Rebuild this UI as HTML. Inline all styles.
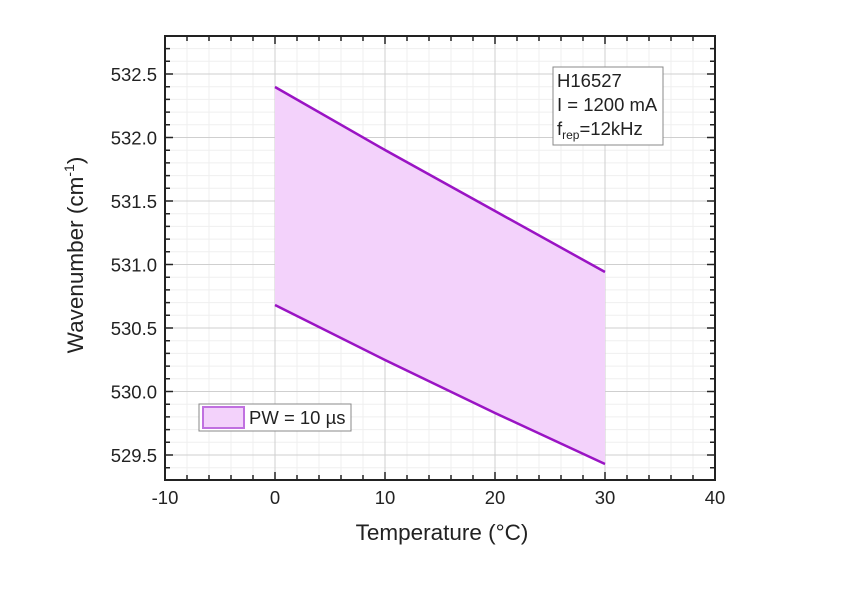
<!DOCTYPE html>
<html><head><meta charset="utf-8"><style>body{margin:0;background:#fff}</style></head><body>
<svg width="846" height="586" xmlns="http://www.w3.org/2000/svg" font-family="Liberation Sans, Arial, sans-serif">
<rect width="846" height="586" fill="#fff"/>
<path fill="none" stroke="#efefef" stroke-width="1" d="
M187 36V480M209 36V480M231 36V480M253 36V480M297 36V480M319 36V480M341 36V480M363 36V480M407 36V480M429 36V480M451 36V480M473 36V480M517 36V480M539 36V480M561 36V480M583 36V480M627 36V480M649 36V480M671 36V480M693 36V480
M165 48.6H715M165 61.3H715M165 86.7H715M165 99.4H715M165 112.1H715M165 124.8H715M165 150.2H715M165 162.9H715M165 175.6H715M165 188.3H715M165 213.7H715M165 226.4H715M165 239.1H715M165 251.8H715M165 277.2H715M165 289.9H715M165 302.6H715M165 315.3H715M165 340.7H715M165 353.4H715M165 366.1H715M165 378.8H715M165 404.2H715M165 416.9H715M165 429.6H715M165 442.3H715M165 467.7H715"/>
<path fill="none" stroke="#cfcfcf" stroke-width="1" d="M275 36V480M385 36V480M495 36V480M605 36V480M165 74H715M165 137.5H715M165 201H715M165 264.5H715M165 328H715M165 391.5H715M165 455H715"/>
<polygon points="275,87 385,150 495,211 605,272 605,464 495,413 385,360 275,305" fill="#f3d2fb"/>
<polyline points="275,87 385,150 495,211 605,272" fill="none" stroke="#9a14c4" stroke-width="2.5"/>
<polyline points="275,305 385,360 495,413 605,464" fill="none" stroke="#9a14c4" stroke-width="2.5"/>
<rect x="165" y="36" width="550" height="444" fill="none" stroke="#222" stroke-width="2"/>
<path fill="none" stroke="#222" stroke-width="1.5" d="
M187 480v-5M209 480v-5M231 480v-5M253 480v-5M297 480v-5M319 480v-5M341 480v-5M363 480v-5M407 480v-5M429 480v-5M451 480v-5M473 480v-5M517 480v-5M539 480v-5M561 480v-5M583 480v-5M627 480v-5M649 480v-5M671 480v-5M693 480v-5
M275 480v-8M385 480v-8M495 480v-8M605 480v-8
M187 36v5M209 36v5M231 36v5M253 36v5M297 36v5M319 36v5M341 36v5M363 36v5M407 36v5M429 36v5M451 36v5M473 36v5M517 36v5M539 36v5M561 36v5M583 36v5M627 36v5M649 36v5M671 36v5M693 36v5
M275 36v8M385 36v8M495 36v8M605 36v8
M165 48.6h5M165 61.3h5M165 86.7h5M165 99.4h5M165 112.1h5M165 124.8h5M165 150.2h5M165 162.9h5M165 175.6h5M165 188.3h5M165 213.7h5M165 226.4h5M165 239.1h5M165 251.8h5M165 277.2h5M165 289.9h5M165 302.6h5M165 315.3h5M165 340.7h5M165 353.4h5M165 366.1h5M165 378.8h5M165 404.2h5M165 416.9h5M165 429.6h5M165 442.3h5M165 467.7h5
M165 74h8M165 137.5h8M165 201h8M165 264.5h8M165 328h8M165 391.5h8M165 455h8
M715 48.6h-5M715 61.3h-5M715 86.7h-5M715 99.4h-5M715 112.1h-5M715 124.8h-5M715 150.2h-5M715 162.9h-5M715 175.6h-5M715 188.3h-5M715 213.7h-5M715 226.4h-5M715 239.1h-5M715 251.8h-5M715 277.2h-5M715 289.9h-5M715 302.6h-5M715 315.3h-5M715 340.7h-5M715 353.4h-5M715 366.1h-5M715 378.8h-5M715 404.2h-5M715 416.9h-5M715 429.6h-5M715 442.3h-5M715 467.7h-5
M715 74h-8M715 137.5h-8M715 201h-8M715 264.5h-8M715 328h-8M715 391.5h-8M715 455h-8"/>
<g font-size="18.5" fill="#222" text-anchor="middle">
<text x="165" y="504">-10</text><text x="275" y="504">0</text><text x="385" y="504">10</text><text x="495" y="504">20</text><text x="605" y="504">30</text><text x="715" y="504">40</text>
</g>
<g font-size="18.5" fill="#222" text-anchor="end">
<text x="157" y="81">532.5</text><text x="157" y="144.5">532.0</text><text x="157" y="208">531.5</text><text x="157" y="271.5">531.0</text><text x="157" y="335">530.5</text><text x="157" y="398.5">530.0</text><text x="157" y="462">529.5</text>
</g>
<rect x="553" y="67" width="110" height="78" fill="#fff" stroke="#888"/>
<text x="557" y="87" font-size="18.5" fill="#222">H16527</text>
<text x="557" y="111" font-size="18.5" fill="#222">I = 1200 mA</text>
<text x="557" y="135" font-size="18.5" fill="#222">f<tspan font-size="12" dy="4">rep</tspan><tspan dy="-4">=12kHz</tspan></text>
<rect x="199" y="404" width="152" height="27" fill="#fff" stroke="#888"/>
<rect x="203" y="407" width="41" height="21" fill="#f3d2fb" stroke="#c070e0" stroke-width="2"/>
<text x="249" y="424" font-size="18.5" fill="#222">PW = 10 µs</text>
<text x="442" y="540" font-size="22.5" text-anchor="middle" fill="#222">Temperature (°C)</text>
<text transform="translate(83,255) rotate(-90)" font-size="22.5" text-anchor="middle" fill="#222">Wavenumber (cm<tspan font-size="14" dy="-9">-1</tspan><tspan dy="9">)</tspan></text>
</svg>
</body></html>
